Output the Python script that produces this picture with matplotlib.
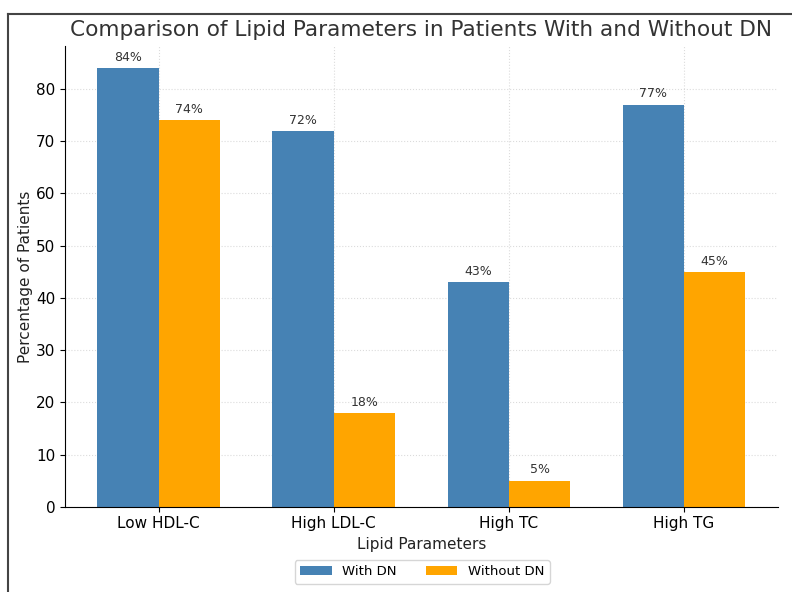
import numpy as np
import matplotlib.pyplot as plt
from matplotlib.lines import Line2D

# Данные диаграммы
categories = ['Low HDL-C', 'High LDL-C', 'High TC', 'High TG']
with_dn = [84, 72, 43, 77]
without_dn = [74, 18, 5, 45]

x = np.arange(len(categories))
width = 0.35

fig, ax = plt.subplots(figsize=(7.92, 5.92), dpi=100)
fig.subplots_adjust(left=0.082, right=0.982, bottom=0.144, top=0.922)

bars1 = ax.bar(x - width / 2, with_dn, width, label='With DN', color='#4682B4')
bars2 = ax.bar(x + width / 2, without_dn, width, label='Without DN', color='#FFA500')

# Подписи над столбцами
for bars in (bars1, bars2):
	for b in bars:
		ax.annotate(f'{b.get_height():.0f}%', (b.get_x() + b.get_width() / 2, b.get_height()),
			xytext=(0, 3), textcoords='offset points', ha='center', va='bottom',
			fontsize=9, color='#333333')

ax.set_title('Comparison of Lipid Parameters in Patients With and Without DN',
	fontsize=15.6, color='#333333', pad=7)
ax.set_xlabel('Lipid Parameters', fontsize=11, color='#222222')
ax.set_ylabel('Percentage of Patients', fontsize=11, color='#222222', labelpad=2)
ax.set_xticks(x)
ax.set_xticklabels(categories, fontsize=11)
ax.tick_params(axis='y', labelsize=11)

ax.grid(True, linestyle=':', color='#cccccc', alpha=0.7)
ax.set_axisbelow(True)
ax.spines['top'].set_visible(False)
ax.spines['right'].set_visible(False)

fig.legend(loc='center', bbox_to_anchor=(0.533, 0.034), ncol=2, fontsize=9.5,
	handlelength=2.4, columnspacing=2.2, frameon=True)

# Рамка скриншота
fig.add_artist(Line2D([8 / 792, 1], [1 - 14 / 592, 1 - 14 / 592], color='#444444', lw=1.5))
fig.add_artist(Line2D([8 / 792, 8 / 792], [0, 1 - 14 / 592], color='#444444', lw=1.5))

fig.savefig('out.png', dpi=100)
